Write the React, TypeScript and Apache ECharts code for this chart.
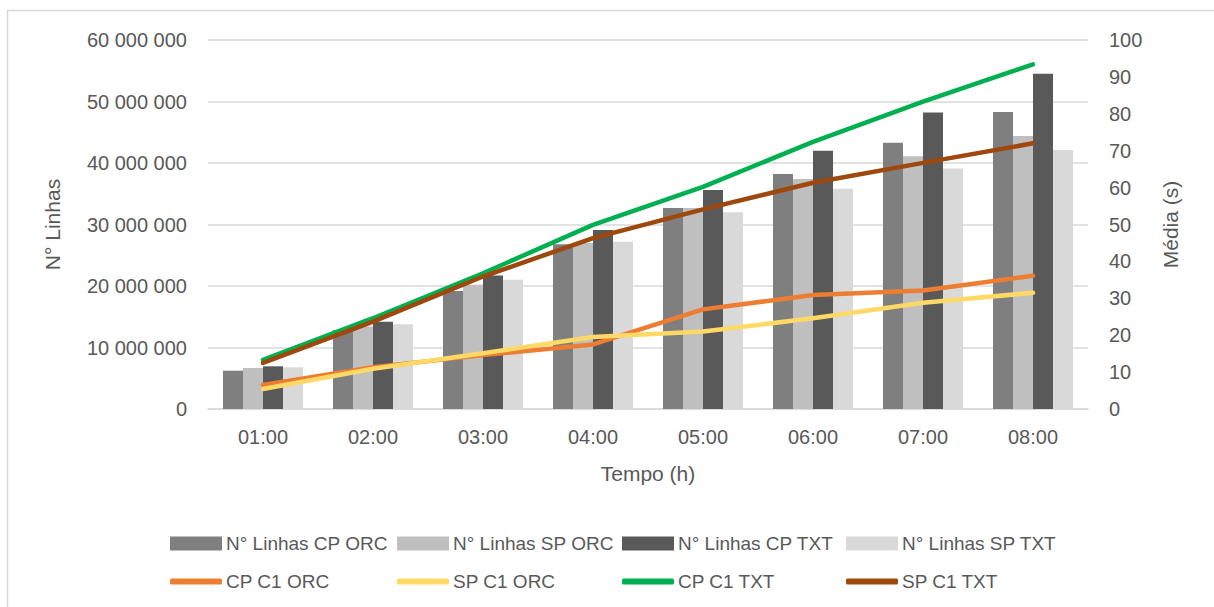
import React, { useEffect, useRef } from "react";
import * as echarts from "echarts";

const categories = ["01:00", "02:00", "03:00", "04:00", "05:00", "06:00", "07:00", "08:00"];

const linhasCpOrc = [6230000, 12850000, 19200000, 26800000, 32700000, 38200000, 43300000, 48300000];
const linhasSpOrc = [6670000, 13400000, 20200000, 27000000, 32700000, 37400000, 41100000, 44400000];
const linhasCpTxt = [6940000, 14200000, 21700000, 29100000, 35600000, 42000000, 48200000, 54500000];
const linhasSpTxt = [6780000, 13800000, 21000000, 27200000, 32000000, 35800000, 39100000, 42100000];

const cpC1Orc = [6.5, 11.3, 14.6, 17.5, 27.0, 30.9, 32.1, 36.1];
const spC1Orc = [5.4, 10.9, 15.1, 19.5, 21.0, 24.6, 28.8, 31.5];
const cpC1Txt = [13.3, 24.6, 36.8, 49.9, 60.2, 72.4, 83.3, 93.4];
const spC1Txt = [12.5, 23.7, 35.9, 46.3, 54.1, 61.3, 66.7, 72.0];

const barNames = ["N° Linhas CP ORC", "N° Linhas SP ORC", "N° Linhas CP TXT", "N° Linhas SP TXT"];
const lineNames = ["CP C1 ORC", "SP C1 ORC", "CP C1 TXT", "SP C1 TXT"];

const barColors = ["#7f7f7f", "#bfbfbf", "#595959", "#d9d9d9"];
const lineColors = ["#ed7d31", "#ffd966", "#00b050", "#9e480e"];

const FONT = "'Liberation Sans', Arial, sans-serif";
const TXT = "#595959";

function fmt(v: number): string {
  return String(v).replace(/\B(?=(\d{3})+(?!\d))/g, " ");
}

export default function App() {
  const ref = useRef<HTMLDivElement>(null);
  useEffect(() => {
    if (!ref.current) return;
    const chart = echarts.init(ref.current, undefined, { renderer: "svg" });
    const barData = [linhasCpOrc, linhasSpOrc, linhasCpTxt, linhasSpTxt];
    const lineData = [cpC1Orc, spC1Orc, cpC1Txt, spC1Txt];
    const legendX = [170, 397, 622, 846];
    const legends: any[] = [];
    barNames.forEach((n, i) => {
      legends.push({
        data: [n],
        left: legendX[i],
        top: 534,
        itemWidth: 52,
        itemHeight: 14,
        icon: "rect",
        padding: 0,
        textStyle: { color: TXT, fontSize: 19, fontFamily: FONT, padding: [0, 0, 0, -1] },
      });
    });
    lineNames.forEach((n, i) => {
      legends.push({
        data: [n],
        left: legendX[i],
        top: 572,
        itemWidth: 52,
        itemHeight: 6,
        icon: "roundRect",
        padding: 0,
        textStyle: { color: TXT, fontSize: 19, fontFamily: FONT, padding: [0, 0, 0, -1] },
      });
    });
    const series: any[] = [];
    barNames.forEach((n, i) => {
      series.push({
        name: n,
        type: "bar",
        data: barData[i],
        yAxisIndex: 0,
        barWidth: 20,
        barGap: "0%",
        itemStyle: { color: barColors[i] },
      });
    });
    lineNames.forEach((n, i) => {
      series.push({
        name: n,
        type: "line",
        data: lineData[i],
        yAxisIndex: 1,
        symbol: "none",
        showSymbol: false,
        lineStyle: { color: lineColors[i], width: 4.5, cap: "round", join: "round" },
        itemStyle: { color: lineColors[i] },
      });
    });
    chart.setOption({
      animation: false,
      backgroundColor: "#ffffff",
      textStyle: { fontFamily: FONT },
      grid: { left: 208, right: 126, top: 40, bottom: 198, containLabel: false },
      legend: legends,
      graphic: [
        {
          type: "rect",
          shape: { x: 7.5, y: 10.5, width: 1300, height: 700 },
          style: { fill: "none", stroke: "#d9d9d9", lineWidth: 1.5 },
          silent: true,
        },
      ],
      xAxis: {
        type: "category",
        data: categories,
        name: "Tempo (h)",
        nameLocation: "middle",
        nameGap: 54,
        nameTextStyle: { color: TXT, fontSize: 21, fontFamily: FONT },
        axisLine: { lineStyle: { color: "#d9d9d9", width: 1.5 } },
        axisTick: { show: false },
        axisLabel: { color: TXT, fontSize: 20, fontFamily: FONT, margin: 18 },
      },
      yAxis: [
        {
          type: "value",
          min: 0,
          max: 60000000,
          interval: 10000000,
          name: "N° Linhas",
          nameLocation: "middle",
          nameRotate: 90,
          nameGap: 145,
          nameTextStyle: { color: TXT, fontSize: 21, fontFamily: FONT },
          axisLine: { show: false },
          axisTick: { show: false },
          axisLabel: { color: TXT, fontSize: 20, fontFamily: FONT, margin: 21, formatter: (v: number) => fmt(v) },
          splitLine: { lineStyle: { color: "#d9d9d9", width: 1.5 } },
        },
        {
          type: "value",
          min: 0,
          max: 100,
          interval: 10,
          name: "Média (s)",
          nameLocation: "middle",
          nameRotate: 90,
          nameGap: 72,
          nameTextStyle: { color: TXT, fontSize: 21, fontFamily: FONT },
          axisLine: { show: false },
          axisTick: { show: false },
          axisLabel: { color: TXT, fontSize: 20, fontFamily: FONT, margin: 21 },
          splitLine: { show: false },
        },
      ],
      series,
    });
    return () => chart.dispose();
  }, []);
  return (
    <div
      ref={ref}
      style={{ position: "fixed", left: 0, top: 0, width: 1214, height: 607, background: "#fff" }}
    />
  );
}
